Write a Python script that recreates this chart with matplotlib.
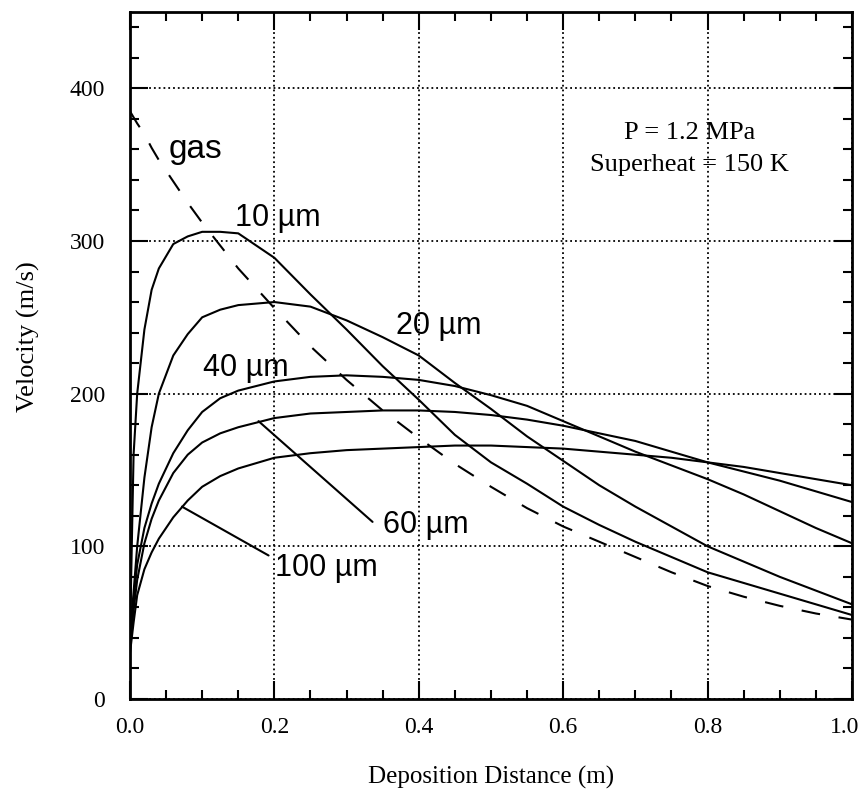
import matplotlib
matplotlib.use("Agg")
import matplotlib.pyplot as plt
from matplotlib.ticker import MultipleLocator, FuncFormatter


# distance along the nozzle axis (m)
dist = [0, 0.005, 0.01, 0.02, 0.03, 0.04, 0.06, 0.08, 0.1, 0.125, 0.15, 0.2, 0.25,
        0.3, 0.35, 0.4, 0.45, 0.5, 0.55, 0.6, 0.65, 0.7, 0.75, 0.8, 0.85, 0.9, 0.95, 1.0]

# velocities (m/s)
v_gas = [385, 381, 377, 370, 361, 353, 339, 325, 312, 297, 282, 256, 231,
         209, 189, 171, 154, 139, 125, 113, 103, 93, 83, 74, 67, 61, 56, 52]
v_10 = [40, 160, 200, 242, 268, 282, 298, 303, 306, 306, 305, 289, 265,
        242, 218, 196, 173, 155, 141, 126, 114, 103, 93, 83, 76, 69, 62, 55]
v_20 = [40, 70, 100, 145, 178, 200, 225, 239, 250, 255, 258, 260, 257,
        248, 237, 225, 207, 190, 172, 156, 140, 126, 113, 100, 90, 80, 71, 62]
v_40 = [35, 65, 88, 112, 128, 141, 161, 176, 188, 197, 202, 208, 211,
        212, 211, 209, 205, 199, 192, 182, 172, 162, 153, 144, 134, 123, 112, 102]
v_60 = [35, 58, 78, 102, 118, 130, 148, 160, 168, 174, 178, 184, 187,
        188, 189, 189, 188, 186, 183, 179, 174, 169, 162, 155, 149, 143, 136, 129]
v_100 = [30, 50, 68, 85, 96, 105, 119, 130, 139, 146, 151, 158, 161,
         163, 164, 165, 166, 166, 165, 164, 162, 160, 158, 155, 152, 148, 144, 140]

particles = ["10 \u00b5m", "20 \u00b5m", "40 \u00b5m", "60 \u00b5m", "100 \u00b5m"]
particle_v = [v_10, v_20, v_40, v_60, v_100]

# label text positions (x, y) and leader line (from, to) where the figure has one
label_pos = [(0.146, 315), (0.368, 244), (0.101, 217), (0.351, 114), (0.201, 86)]
leaders = [None, None, None, ((0.336, 116), (0.178, 182)), ((0.192, 94), (0.072, 126))]
gas_pos = (0.053, 360)

serif = "Liberation Serif"
sans = "Liberation Sans"

fig = plt.figure(figsize=(8.63, 7.89), dpi=100)
ax = fig.add_axes([0.1506, 0.1141, 0.8366, 0.8707])

ax.plot(dist, v_gas, color="black", lw=1.5, linestyle=(0, (9, 9)))
for v in particle_v:
    ax.plot(dist, v, color="black", lw=1.5)

ax.text(gas_pos[0], gas_pos[1], "gas", fontsize=24, family=sans, va="center", ha="left")
for name, pos, ld in zip(particles, label_pos, leaders):
    ax.text(pos[0], pos[1], name, fontsize=22, family=sans, va="center", ha="left")
    if ld is not None:
        ax.annotate("", xy=ld[1], xytext=ld[0],
                    arrowprops=dict(arrowstyle="-", color="black", lw=1.5,
                                    shrinkA=0, shrinkB=0))

ax.text(0.775, 360, "P = 1.2 MPa\nSuperheat = 150 K", fontsize=19, family=serif,
        ha="center", va="center", linespacing=1.6)

ax.set_xlim(0, 1.0)
ax.set_ylim(0, 450)
ax.xaxis.set_major_locator(MultipleLocator(0.2))
ax.xaxis.set_minor_locator(MultipleLocator(0.05))
ax.yaxis.set_major_locator(MultipleLocator(100))
ax.yaxis.set_minor_locator(MultipleLocator(20))
# the 1.0 label sits at the right edge, it is drawn separately below
ax.xaxis.set_major_formatter(FuncFormatter(lambda v, p: "" if v > 0.99 else "%.1f" % v))

ax.grid(True, which="major", linestyle=":", color="black", lw=1.3)
for s in ax.spines.values():
    s.set_linewidth(2)

ax.tick_params(which="both", direction="in", top=True, right=True, width=1.5)
ax.tick_params(which="major", length=13)
ax.tick_params(which="minor", length=6.5)
ax.tick_params(axis="x", which="major", pad=13)
ax.tick_params(axis="y", which="major", pad=18)
ax.tick_params(which="major", labelsize=17)
for lab in ax.get_xticklabels() + ax.get_yticklabels():
    lab.set_family(serif)

ax.annotate("1.0", xy=(1.0, 0), xycoords=("data", "axes fraction"),
            xytext=(5, -13), textcoords="offset points",
            ha="right", va="top", fontsize=17, family=serif)

ax.set_xlabel("Deposition Distance (m)", family=serif, fontsize=18, labelpad=20)
ax.set_ylabel("Velocity (m/s)", family=serif, fontsize=19)
ax.yaxis.set_label_coords(-0.125, 0.527)

fig.savefig("out.png", dpi=100)
